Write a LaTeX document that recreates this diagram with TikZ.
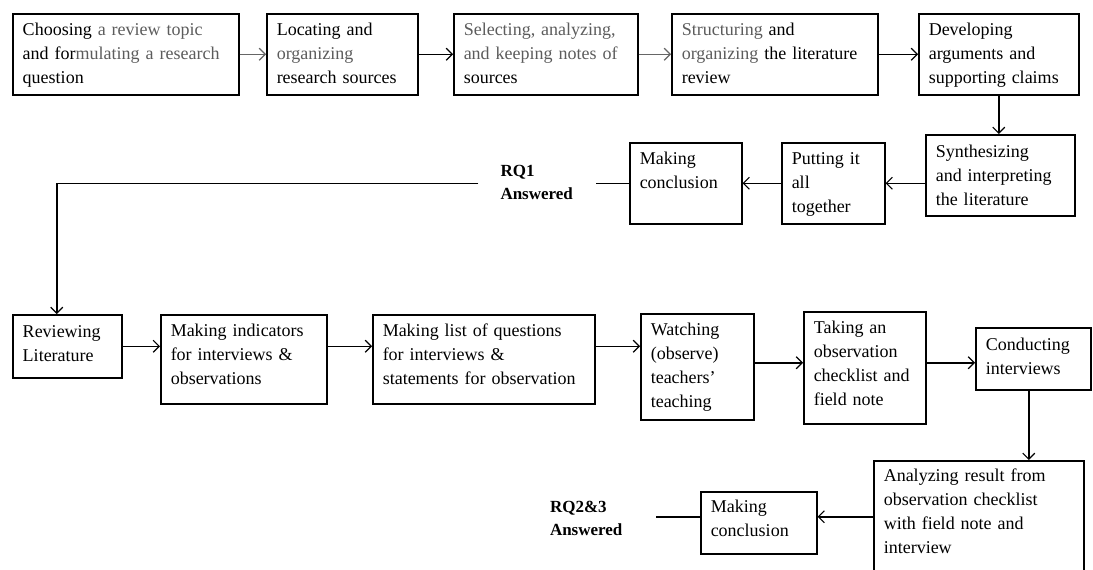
\documentclass[tikz,border=0pt]{standalone}
\usepackage{fontspec}
\setmainfont{Liberation Serif}
\usetikzlibrary{arrows.meta}
\definecolor{txtgray}{gray}{0.36}
\begin{document}
\begin{tikzpicture}[x=1pt,y=-1pt,
  box/.style={draw, line width=1.5pt, anchor=north west, inner xsep=10pt, inner ysep=0pt,
    align=left, text height=22pt, font=\fontsize{18}{24}\selectfont},
  lbl/.style={font=\bfseries\fontsize{17}{23}\selectfont, align=left, inner ysep=0pt, text width=73pt},
  con/.style={line width=1.5pt},
  arr/.style={con, -{Straight Barb[length=6pt,width=12pt,line width=1.2pt]}},
  gry/.style={draw=black!60}
]
\useasboundingbox[fill=white] (0,0) rectangle (1093,570);

% row 1
\node[box, text width=206pt, text depth=59pt] (b1) at (12,13)
  {Choosing \textcolor{txtgray}{a review topic}\\and for\textcolor{txtgray}{mulating a research}\\question};
\node[box, text width=131pt, text depth=59pt] (b2) at (266,13)
  {Locating and\\\textcolor{txtgray}{organizing}\\research sources};
\node[box, text width=164pt, text depth=59pt] (b3) at (453,13)
  {\textcolor{txtgray}{Selecting, analyzing,}\\\textcolor{txtgray}{and keeping notes of}\\sources};
\node[box, text width=186pt, text depth=59pt] (b4) at (671,13)
  {\textcolor{txtgray}{Structuring} and\\\textcolor{txtgray}{organizing} the literature\\review};
\node[box, text width=140pt, text depth=59pt] (b5) at (918,13)
  {Developing\\arguments and\\supporting claims};

% row 2
\node[box, text width=129pt, text height=23pt, text depth=58pt] (s) at (925,134)
  {Synthesizing\\and interpreting\\the literature};
\node[box, text width=83pt, text depth=59pt] (p) at (781,142)
  {Putting it\\all\\together};
\node[box, text width=92pt, text depth=59pt] (m1) at (629,142)
  {Making\\conclusion};
\node[lbl, inner xsep=22pt] (rq1) at (537,182.5) {RQ1\\Answered};

% row 3
\node[box, text width=89pt, text height=23pt, text depth=40pt] (r) at (12,314)
  {Reviewing\\Literature};
\node[box, text width=146pt, text depth=67pt] (i) at (160,314)
  {Making indicators\\for interviews \&\\observations};
\node[box, text width=202pt, text depth=67pt] (l) at (372,314)
  {Making list of questions\\for interviews \&\\statements for observation};
\node[box, text width=93pt, text depth=84pt] (wt) at (640,313)
  {Watching\\(observe)\\teachers’\\teaching};
\node[box, text width=102pt, text depth=90pt] (t) at (803,311)
  {Taking an\\observation\\checklist and\\field note};
\node[box, text width=95pt, text height=23pt, text depth=39pt] (c) at (975,327)
  {Conducting\\interviews};

% row 4
\node[box, text width=190pt, text height=21pt, text depth=99pt] (a) at (873,460)
  {Analyzing result from\\observation checklist\\with field note and\\interview};
\node[box, text width=96pt, text height=21pt, text depth=41pt] (m2) at (700,491)
  {Making\\conclusion};
\node[lbl, inner xsep=33pt] (rq23) at (586.5,518) {RQ2\&3\\Answered};

% connectors
\draw[arr, gry] (b1) -- (b2);
\draw[arr] (b2) -- (b3);
\draw[arr, gry] (b3) -- (b4);
\draw[arr] (b4) -- (b5);
\draw[arr] (b5.south) -- (b5.south |- s.north);
\draw[arr] (s.west |- p.east) -- (p.east);
\draw[arr] (p) -- (m1);
\draw[con] (m1.west) -- (rq1.east |- m1.west);
\draw[arr] (rq1.west |- m1.west) -| ([xshift=-10.5pt]r.north);

\draw[arr] (r.east) -- (r.east -| i.west);
\draw[arr] (i.east |- r.east) -- (l.west |- r.east);
\draw[arr] (l.east |- r.east) -- (wt.west |- r.east);
\coordinate (w2) at ([yshift=4pt]wt.east);
\draw[arr] (w2) -- (w2 -| t.west);
\draw[arr] (t.east |- w2) -- (c.west |- w2);
\coordinate (c2) at ([xshift=-4.5pt]c.south);
\draw[arr] (c2) -- (c2 |- a.north);
\coordinate (m2e) at ([yshift=6pt]m2.east);
\draw[arr] (m2e -| a.west) -- (m2e);
\coordinate (m2w) at ([yshift=6pt]m2.west);
\draw[con] (m2w) -- (rq23.east |- m2w);
\end{tikzpicture}
\end{document}
